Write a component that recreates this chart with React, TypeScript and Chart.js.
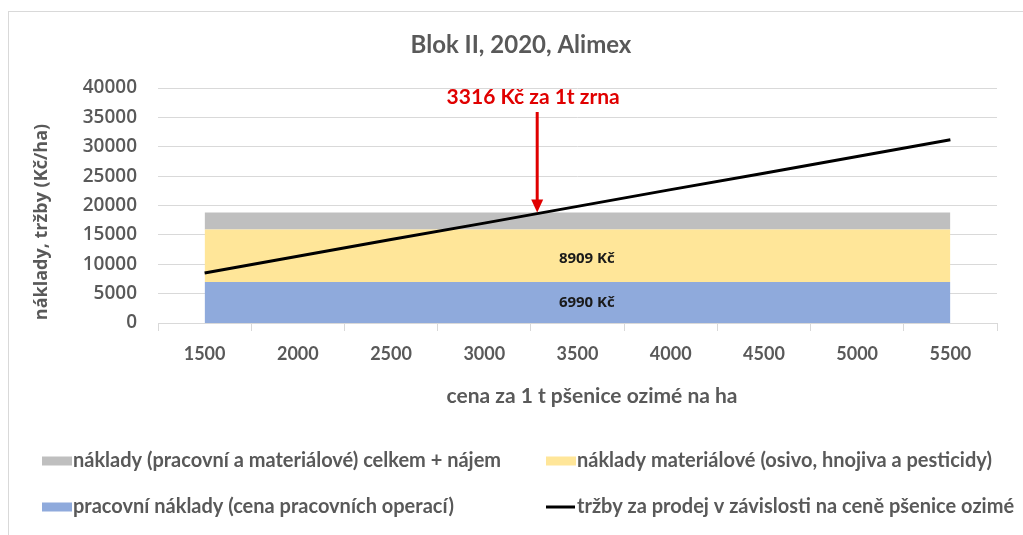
import { useEffect, useRef } from 'react';
import { Chart, registerables } from 'chart.js';

Chart.register(...registerables);

const chartTitle = 'Blok II, 2020, Alimex';
const prices = ['1500', '2000', '2500', '3000', '3500', '4000', '4500', '5000', '5500'];
const laborCosts = [6990, 6990, 6990, 6990, 6990, 6990, 6990, 6990, 6990];
const materialCosts = [8909, 8909, 8909, 8909, 8909, 8909, 8909, 8909, 8909];
const rentCosts = [2901, 2901, 2901, 2901, 2901, 2901, 2901, 2901, 2901];
const revenue = [8500, 11350, 14200, 17000, 19850, 22700, 25500, 28350, 31200];
const breakEvenPrice = 3316;
const annotationText = '3316 Kč za 1t zrna';
const xTitle = 'cena za 1 t pšenice ozimé na ha';
const yTitle = 'náklady, tržby (Kč/ha)';
const nameTotal = 'náklady (pracovní a materiálové) celkem + nájem';
const nameMaterial = 'náklady materiálové (osivo, hnojiva a pesticidy)';
const nameLabor = 'pracovní náklady (cena pracovních operací)';
const nameRevenue = 'tržby za prodej v závislosti na ceně pšenice ozimé';

const GREY = '#BFBFBF';
const YELLOW = '#FFE699';
const BLUE = '#8FAADC';
const TEXT = '#595959';
const FONT = 'Lato, "Open Sans", sans-serif';
const FONT2 = '"Open Sans", Lato, sans-serif';

const customPlugin = {
  id: 'customDraw',
  beforeDraw(chart: any) {
    const ctx = chart.ctx;
    ctx.save();
    ctx.fillStyle = '#ffffff';
    ctx.fillRect(0, 0, chart.width, chart.height);
    ctx.restore();
  },
  afterDatasetsDraw(chart: any) {
    const ctx = chart.ctx;
    const xs = chart.scales.x;
    const ys = chart.scales.y;
    ctx.save();
    // value labels inside areas
    const lx = xs.getPixelForValue(4.1);
    ctx.font = `bold 15px ${FONT2}`;
    ctx.fillStyle = '#1a1a1a';
    ctx.textAlign = 'center';
    ctx.textBaseline = 'middle';
    ctx.fillText(`${materialCosts[4]} Kč`, lx, ys.getPixelForValue(laborCosts[4] + materialCosts[4] / 2) + 3);
    ctx.fillText(`${laborCosts[4]} Kč`, lx, ys.getPixelForValue(laborCosts[4] / 2));

    // annotation arrow
    const first = Number(prices[0]);
    const step = Number(prices[1]) - first;
    const ax = xs.getPixelForValue((breakEvenPrice - first) / step) - 6;
    const tipY = ys.getPixelForValue(laborCosts[3] + materialCosts[3] + rentCosts[3]);
    const topY = 112;
    ctx.strokeStyle = '#E00000';
    ctx.fillStyle = '#E00000';
    ctx.lineWidth = 3;
    ctx.beginPath();
    ctx.moveTo(ax, topY);
    ctx.lineTo(ax, tipY - 12);
    ctx.stroke();
    ctx.beginPath();
    ctx.moveTo(ax - 6, tipY - 13);
    ctx.lineTo(ax + 6, tipY - 13);
    ctx.lineTo(ax, tipY);
    ctx.closePath();
    ctx.fill();
    ctx.font = `bold 21px ${FONT}`;
    ctx.textAlign = 'center';
    ctx.textBaseline = 'middle';
    ctx.fillText(annotationText, ax - 4, 97);
    ctx.restore();
  },
  afterDraw(chart: any) {
    const ctx = chart.ctx;
    ctx.save();
    // frame
    ctx.strokeStyle = '#D9D9D9';
    ctx.lineWidth = 1;
    ctx.strokeRect(8.5, 11.5, 1100, 600);

    // title
    ctx.fillStyle = TEXT;
    ctx.textAlign = 'center';
    ctx.textBaseline = 'middle';
    ctx.font = `bold 24px ${FONT}`;
    ctx.fillText(chartTitle, 521, 45);

    // x title
    ctx.font = `bold 21px ${FONT}`;
    ctx.fillText(xTitle, 592, 396);

    // y title
    ctx.save();
    ctx.translate(42, 222);
    ctx.rotate(-Math.PI / 2);
    ctx.font = `bold 18px ${FONT2}`;
    ctx.fillText(yTitle, 0, 0);
    ctx.restore();

    // legend
    const ds = chart.data.datasets;
    const entries = [
      { d: ds[2], x: 42, y: 461 },
      { d: ds[1], x: 546, y: 461 },
      { d: ds[0], x: 42, y: 507 },
      { d: ds[3], x: 546, y: 507 },
    ];
    ctx.font = `bold 20px ${FONT}`;
    ctx.textAlign = 'left';
    ctx.textBaseline = 'middle';
    for (const e of entries) {
      if (e.d.fill === false) {
        ctx.strokeStyle = e.d.borderColor;
        ctx.lineWidth = 3;
        ctx.beginPath();
        ctx.moveTo(e.x, e.y);
        ctx.lineTo(e.x + 29, e.y);
        ctx.stroke();
      } else {
        ctx.fillStyle = e.d.backgroundColor;
        ctx.fillRect(e.x, e.y - 4.5, 30, 9);
      }
      ctx.fillStyle = TEXT;
      ctx.fillText(e.d.label, e.x + 31, e.y);
    }
    ctx.restore();
  },
};

export default function App() {
  const ref = useRef<HTMLCanvasElement | null>(null);
  useEffect(() => {
    document.body.style.margin = '0';
    if (!ref.current) return;
    const chart = new Chart(ref.current, {
      type: 'line',
      data: {
        labels: prices,
        datasets: [
          {
            type: 'line',
            label: nameLabor,
            data: laborCosts,
            backgroundColor: BLUE,
            borderColor: BLUE,
            borderWidth: 0,
            pointRadius: 0,
            fill: 'origin',
            stack: 'costs',
          },
          {
            type: 'line',
            label: nameMaterial,
            data: materialCosts,
            backgroundColor: YELLOW,
            borderColor: YELLOW,
            borderWidth: 0,
            pointRadius: 0,
            fill: '-1',
            stack: 'costs',
          },
          {
            type: 'line',
            label: nameTotal,
            data: rentCosts,
            backgroundColor: GREY,
            borderColor: GREY,
            borderWidth: 0,
            pointRadius: 0,
            fill: '-1',
            stack: 'costs',
          },
          {
            type: 'line',
            label: nameRevenue,
            data: revenue,
            borderColor: '#000000',
            backgroundColor: '#000000',
            borderWidth: 3,
            pointRadius: 0,
            fill: false,
            stack: 'revenue',
            order: -1,
          },
        ],
      },
      options: {
        animation: false,
        responsive: false,
        layout: { padding: { top: 88, right: 26, left: 0, bottom: 0 } },
        plugins: {
          legend: { display: false },
          title: { display: false },
          tooltip: { enabled: false },
        },
        scales: {
          x: {
            type: 'category',
            offset: true,
            grid: {
              display: true,
              drawOnChartArea: false,
              drawTicks: true,
              tickLength: 8,
              offset: true,
              color: '#D9D9D9',
            },
            border: { display: true, color: '#D9D9D9' },
            ticks: {
              font: { family: FONT, size: 18, weight: 'bold' },
              color: TEXT,
              padding: 12,
              maxRotation: 0,
              autoSkip: false,
            },
            afterFit: (s: any) => {
              s.height = 212;
            },
          },
          y: {
            stacked: true,
            min: 0,
            max: 40000,
            ticks: {
              stepSize: 5000,
              font: { family: FONT2, size: 19, weight: '600' },
              color: TEXT,
              padding: 21,
              callback: (v: any) => String(v),
            },
            grid: { color: '#D9D9D9', drawTicks: false },
            border: { display: false },
            afterFit: (s: any) => {
              s.width = 158;
            },
          },
        },
      },
      plugins: [customPlugin],
    } as any);
    return () => chart.destroy();
  }, []);
  return <canvas ref={ref} width={1023} height={535} style={{ display: 'block' }} />;
}
